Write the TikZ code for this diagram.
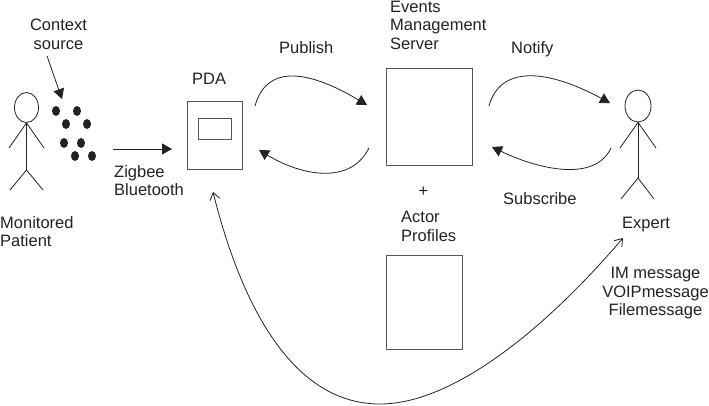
\documentclass[tikz,border=0pt]{standalone}
\usepackage{fontspec}
\setmainfont{Liberation Sans}
\usetikzlibrary{arrows.meta,shapes.geometric}
\definecolor{ink}{HTML}{222222}
\definecolor{boxline}{HTML}{555555}
\tikzset{
  every node/.style={text=ink,font=\fontsize{16.5}{18.7}\selectfont},
  lbl/.style={align=left,inner sep=0pt,anchor=north west},
  lblc/.style={align=center,inner sep=0pt,anchor=north},
  panel/.style={draw=boxline,line width=1pt,inner sep=0pt,anchor=north west},
  limb/.style={draw=ink,line width=0.8pt},
  flow/.style={draw=ink,line width=0.8pt,-{Triangle[length=10pt,width=11pt]}},
  dot/.style={fill=ink,draw=none,ellipse,minimum width=8pt,minimum height=10pt,inner sep=0pt}
}
\begin{document}
\begin{tikzpicture}[x=1pt,y=-1pt]
\useasboundingbox (0,0) rectangle (709,405);
% monitored patient
\node[draw=ink,line width=0.8pt,ellipse,minimum width=24pt,minimum height=30pt,inner sep=0pt] (phead) at (26.5,107.5) {};
\coordinate (phip) at (26.5,170);
\draw[limb] (phead.south) -- (phip);
\coordinate (parmL) at (9,148); \coordinate (parmR) at (44,148);
\coordinate (plegL) at (10,190); \coordinate (plegR) at (43,190);
\draw[limb] (parmL) -- (phead.south) -- (parmR);
\draw[limb] (plegL) -- (phip) -- (plegR);
\node[lbl] (ptext) at (0,216) {Monitored\\Patient};
% context source dots
\foreach \n/\x/\y in {a/56/111,b/77/111,c/66/124,d/87/124,e/64/143,f/81/143,g/75/156,h/92/156}
  \node[dot] (dot\n) at (\x,\y) {};
\node[lblc] (ctext) at (58.5,19) {Context\\source};
\coordinate (cfrom) at (47,56);
\coordinate (cto) at (62,99);
\draw[flow] (cfrom) -- (cto);
% wireless link
\coordinate (zfrom) at (113,149);
\coordinate (zto) at (172,149);
\draw[flow] (zfrom) -- (zto);
\node[lbl] (ztext) at (114,165) {Zigbee\\Bluetooth};
% PDA
\node[panel,minimum width=55pt,minimum height=68pt] (pda) at (187,101) {};
\node[panel,minimum width=33pt,minimum height=21pt] (screen) at (198,118) {};
\node[lbl] (pdatext) at (192,73) {PDA};
% server and profile store
\node[panel,minimum width=86pt,minimum height=97pt] (server) at (386,68) {};
\node[lbl] (stext) at (390,0.5) {Events\\Management\\Server};
\node[lblc] (plus) at (423.5,187) {+};
\node[lbl] (atext) at (401,211) {Actor\\Profiles};
\node[panel,minimum width=76pt,minimum height=94pt] (profiles) at (386,255) {};
% expert
\node[draw=ink,line width=0.8pt,ellipse,minimum width=26pt,minimum height=32pt,inner sep=0pt] (ehead) at (638,106) {};
\coordinate (ehip) at (638,178);
\draw[limb] (ehead.south) -- (ehip);
\coordinate (earmL) at (620,148); \coordinate (earmR) at (656,148);
\coordinate (elegL) at (621,199); \coordinate (elegR) at (654,199);
\draw[limb] (earmL) -- (ehead.south) -- (earmR);
\draw[limb] (elegL) -- (ehip) -- (elegR);
\node[lbl] (etext) at (622,217) {Expert};
\node[lblc] (mtext) at (655.5,267) {IM message\\VOIPmessage\\Filemessage};
% publish / subscribe curves
\node[lbl] (pubtext) at (279,41) {Publish};
\node[lbl] (nottext) at (511,41) {Notify};
\node[lbl] (subtext) at (503,192) {Subscribe};
\coordinate (p1) at (255,106); \coordinate (p2) at (367,105);
\draw[flow] (p1) .. controls (266,66) and (305,68) .. (p2);
\coordinate (q1) at (369,148); \coordinate (q2) at (259,150);
\draw[flow] (q1) .. controls (350,186) and (300,175) .. (q2);
\coordinate (n1) at (489,106); \coordinate (n2) at (610,103);
\draw[flow] (n1) .. controls (500,66) and (545,68) .. (n2);
\coordinate (s1) at (611,148); \coordinate (s2) at (492,147);
\draw[flow] (s1) .. controls (595,182) and (540,170) .. (s2);
% long path between PDA and expert, with an open head at both ends
\coordinate (r1) at (213,192); \coordinate (rb) at (380,404); \coordinate (r2) at (623,238);
\draw[draw=ink,line width=0.8pt,{Straight Barb[length=7pt,width=10pt]}-{Straight Barb[length=7pt,width=10pt]}]
  (r1) .. controls (240,300) and (290,404) .. (rb) .. controls (450,404) and (540,335) .. (r2);
\end{tikzpicture}
\end{document}
